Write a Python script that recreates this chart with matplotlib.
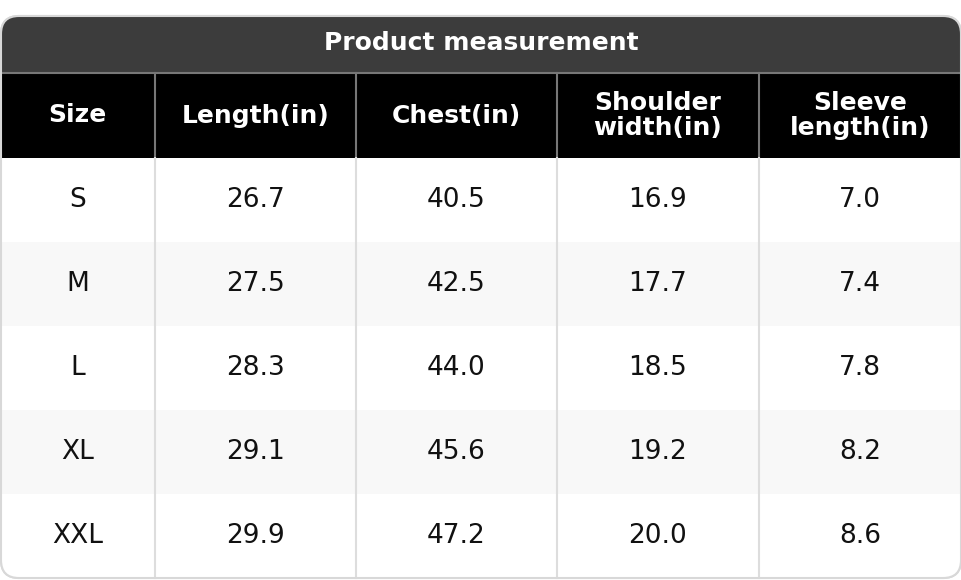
import matplotlib
matplotlib.use("Agg")
import matplotlib.pyplot as plt
from matplotlib.patches import Rectangle, FancyBboxPatch

plt.rcParams['font.family'] = ['DejaVu Sans']

title = "Product measurement"
headers = ["Size", "Length(in)", "Chest(in)", "Shoulder\nwidth(in)", "Sleeve\nlength(in)"]
sizes = ["S", "M", "L", "XL", "XXL"]
length = [26.7, 27.5, 28.3, 29.1, 29.9]
chest = [40.5, 42.5, 44.0, 45.6, 47.2]
shoulder = [16.9, 17.7, 18.5, 19.2, 20.0]
sleeve = [7.0, 7.4, 7.8, 8.2, 8.6]

W, H = 962, 580
fig = plt.figure(figsize=(W/100, H/100), dpi=100)
ax = fig.add_axes([0, 0, 1, 1])
ax.set_xlim(0, W); ax.set_ylim(H, 0); ax.axis("off")

cols = [0, 155, 356, 557, 759, 961]
top, ttl_b, hdr_b, bot = 16, 73, 158, 578
rh = (bot - hdr_b) / len(sizes)
r = 18

clip = FancyBboxPatch((1, top), W-2, bot-top, boxstyle=f"round,pad=0,rounding_size={r}",
                      fc="white", ec="#d8d8d8", lw=1.5, zorder=1)
ax.add_patch(clip)
items = []
items.append(ax.add_patch(Rectangle((0, top), W, ttl_b-top, fc="#3c3c3c", ec="none", zorder=2)))
items.append(ax.add_patch(Rectangle((0, ttl_b), W, hdr_b-ttl_b, fc="#000000", ec="none", zorder=2)))
for i in range(len(sizes)):
    y0 = hdr_b + i*rh
    items.append(ax.add_patch(Rectangle((0, y0), W, rh, fc="white" if i % 2 == 0 else "#f8f8f8",
                                        ec="none", zorder=2)))
for p in items:
    p.set_clip_path(clip)

ax.plot([0, W], [ttl_b, ttl_b], color="#777777", lw=1.5, zorder=3)
for x in cols[1:-1]:
    ax.plot([x, x], [ttl_b, hdr_b], color="#777777", lw=1.5, zorder=3)
    ax.plot([x, x], [hdr_b, bot], color="#dddddd", lw=1.5, zorder=3)
outline = FancyBboxPatch((1, top), W-2, bot-top, boxstyle=f"round,pad=0,rounding_size={r}",
                         fc="none", ec="#d8d8d8", lw=1.5, zorder=4)
ax.add_patch(outline)

ax.text(W/2, (top+ttl_b)/2 - 1, title, ha="center", va="center", color="white",
        fontsize=18, fontweight="bold", zorder=5)
for j, h in enumerate(headers):
    ax.text((cols[j]+cols[j+1])/2, (ttl_b+hdr_b)/2, h, ha="center", va="center",
            color="white", fontsize=18, fontweight="bold", linespacing=1.05, zorder=5)
for i in range(len(sizes)):
    yc = hdr_b + (i+0.5)*rh
    vals = [sizes[i], f"{length[i]:.1f}", f"{chest[i]:.1f}", f"{shoulder[i]:.1f}", f"{sleeve[i]:.1f}"]
    for j, v in enumerate(vals):
        ax.text((cols[j]+cols[j+1])/2, yc, v, ha="center", va="center", color="#111111",
                fontsize=19, zorder=5)

fig.savefig("out.png", dpi=100)
